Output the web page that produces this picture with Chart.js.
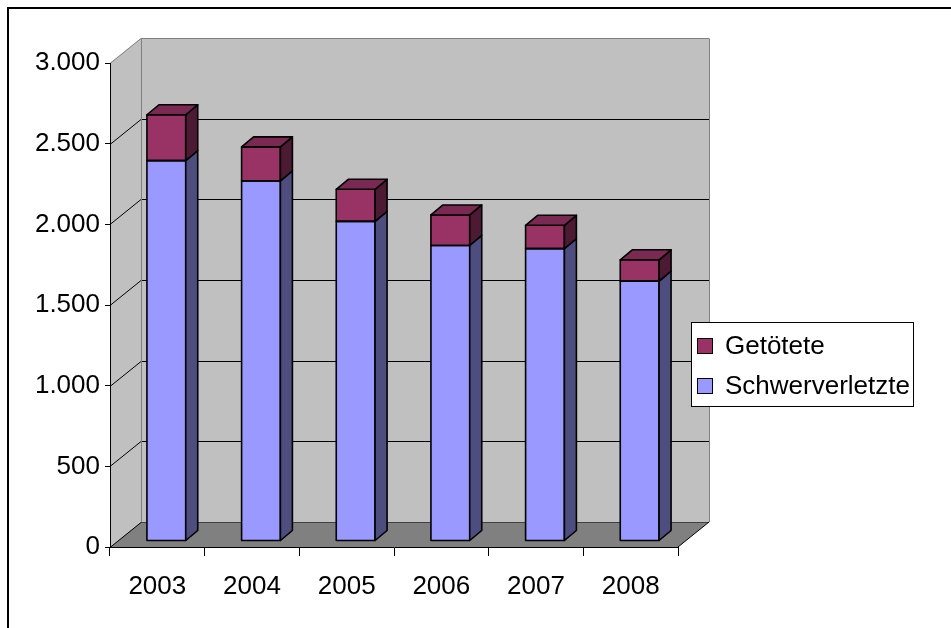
<!DOCTYPE html>
<html>
<head>
<meta charset="utf-8">
<script src="https://cdn.jsdelivr.net/npm/chart.js@4.4.1/dist/chart.umd.min.js"></script>
<style>
  body { margin: 0; background: #fff; }
  #wrap { width: 951px; height: 628px; }
</style>
</head>
<body>
<div id="wrap"><canvas id="chart" width="951" height="628"></canvas></div>
<script>
const years = ['2003', '2004', '2005', '2006', '2007', '2008'];
const schwerverletzte = [2358, 2232, 1981, 1832, 1812, 1611];
const getoetete = [284, 211, 199, 189, 145, 132];
const yTicks = [0, 500, 1000, 1500, 2000, 2500, 3000];

// 3d look: depth of the walls, where the bars sit in it, how deep a bar is
const WALL = { dx: 31, dy: -25 };
const SHIFT = { dx: 9, dy: -6 };
const BAR = { dx: 12, dy: -10 };

const faces = [
    { front: '#9999ff', side: '#4d4d80', top: '#7a7acc' },
    { front: '#993366', side: '#4d1a33', top: '#7a2952' }
];

const FONT = '26px "Liberation Sans", Arial, sans-serif';

function fmt(v) {
    if (v < 1000) return String(v);
    return Math.floor(v / 1000) + '.' + String(v % 1000).padStart(3, '0');
}

function poly(ctx, pts) {
    ctx.beginPath();
    ctx.moveTo(pts[0][0], pts[0][1]);
    for (let i = 1; i < pts.length; i++) ctx.lineTo(pts[i][0], pts[i][1]);
    ctx.closePath();
}

function line(ctx, x1, y1, x2, y2, color) {
    ctx.strokeStyle = color;
    ctx.beginPath();
    ctx.moveTo(x1, y1);
    ctx.lineTo(x2, y2);
    ctx.stroke();
}

const wallsPlugin = {
    id: 'walls',
    beforeDraw(chart) {
        const ctx = chart.ctx;
        const { left, right, top, bottom } = chart.chartArea;
        const yScale = chart.scales.y;
        const { dx, dy } = WALL;
        ctx.save();
        ctx.fillStyle = '#c0c0c0';
        poly(ctx, [[left, top], [left + dx, top + dy], [left + dx, bottom + dy], [left, bottom]]);
        ctx.fill();
        ctx.fillRect(left + dx, top + dy, right - left, bottom - top);
        ctx.fillStyle = '#808080';
        poly(ctx, [[left, bottom], [left + dx, bottom + dy], [right + dx, bottom + dy], [right, bottom]]);
        ctx.fill();

        ctx.lineWidth = 1;
        yTicks.forEach(v => {
            const py = Math.round(yScale.getPixelForValue(v)) + 0.5;
            if (v === yTicks[yTicks.length - 1]) return;
            line(ctx, left, py, left + dx, py + dy, '#000');
            line(ctx, left + dx, py + dy, right + dx, py + dy, v === 0 ? '#404040' : '#000');
        });
        const t = Math.round(top) + 0.5;
        line(ctx, left, t, left + dx, t + dy, '#808080');
        line(ctx, left + dx, t + dy, right + dx, t + dy, '#808080');
        line(ctx, left + dx + 0.5, t + dy, left + dx + 0.5, bottom + dy, '#808080');
        line(ctx, right + dx + 0.5, t + dy, right + dx + 0.5, bottom + dy, '#808080');
        line(ctx, right, bottom, right + dx, bottom + dy, '#000');
        ctx.restore();
    },
    beforeDatasetsDraw(chart) {
        chart.ctx.save();
        chart.ctx.translate(SHIFT.dx, SHIFT.dy);
    },
    afterDatasetsDraw(chart) {
        const ctx = chart.ctx;
        const last = chart.data.datasets.length - 1;
        ctx.lineWidth = 1.6;
        ctx.strokeStyle = '#000';
        ctx.lineJoin = 'round';
        chart.data.datasets.forEach((ds, i) => {
            chart.getDatasetMeta(i).data.forEach(bar => {
                const { x, y, base, width } = bar.getProps(['x', 'y', 'base', 'width'], true);
                const l = x - width / 2;
                const r = x + width / 2;
                ctx.strokeRect(l, y, width, base - y);
                ctx.fillStyle = faces[i].side;
                poly(ctx, [[r, y], [r + BAR.dx, y + BAR.dy], [r + BAR.dx, base + BAR.dy], [r, base]]);
                ctx.fill();
                ctx.stroke();
                if (i === last) {
                    ctx.fillStyle = faces[i].top;
                    poly(ctx, [[l, y], [l + BAR.dx, y + BAR.dy], [r + BAR.dx, y + BAR.dy], [r, y]]);
                    ctx.fill();
                    ctx.stroke();
                }
            });
        });
        ctx.restore();
    },
    afterDraw(chart) {
        const ctx = chart.ctx;
        ctx.save();
        // legend box, top series first
        ctx.fillStyle = '#fff';
        ctx.fillRect(691, 322, 222, 84);
        ctx.strokeStyle = '#000';
        ctx.lineWidth = 1;
        ctx.strokeRect(691.5, 322.5, 222, 84);
        ctx.font = FONT;
        ctx.textBaseline = 'middle';
        const items = chart.data.datasets.map((ds, i) => ({ label: ds.label, color: faces[i].front })).reverse();
        items.forEach((it, k) => {
            const cy = 346 + k * 40;
            ctx.fillStyle = it.color;
            ctx.fillRect(697.5, cy - 7.5, 15, 15);
            ctx.strokeRect(697.5, cy - 7.5, 15, 15);
            ctx.fillStyle = '#000';
            ctx.fillText(it.label, 725, cy + 1);
        });
        // outer frame
        ctx.lineWidth = 2;
        ctx.strokeRect(8, 8, 1000, 1000);
        ctx.restore();
    }
};

Chart.defaults.font.family = '"Liberation Sans", Arial, sans-serif';
Chart.defaults.font.size = 26;
Chart.defaults.color = '#000';

new Chart(document.getElementById('chart'), {
    type: 'bar',
    data: {
        labels: years,
        datasets: [
            { label: 'Schwerverletzte', data: schwerverletzte, backgroundColor: faces[0].front, borderWidth: 0 },
            { label: 'Getötete', data: getoetete, backgroundColor: faces[1].front, borderWidth: 0 }
        ]
    },
    options: {
        responsive: false,
        animation: false,
        clip: false,
        layout: { padding: { top: 63, right: 273, left: 0, bottom: 0 } },
        datasets: { bar: { categoryPercentage: 1, barPercentage: 0.41 } },
        plugins: { legend: { display: false }, tooltip: { enabled: false } },
        scales: {
            x: {
                stacked: true,
                grid: { drawOnChartArea: false, tickLength: 9, color: '#000' },
                border: { color: '#000' },
                ticks: { padding: 15 },
                afterFit: (s) => { s.height = 81; }
            },
            y: {
                stacked: true,
                min: yTicks[0],
                max: yTicks[yTicks.length - 1],
                ticks: { stepSize: yTicks[1] - yTicks[0], padding: 5, callback: (v) => fmt(v) },
                grid: { drawOnChartArea: false, tickLength: 5, color: '#000' },
                border: { color: '#000' },
                afterFit: (s) => { s.width = 110; }
            }
        }
    },
    plugins: [wallsPlugin]
});
</script>
</body>
</html>
